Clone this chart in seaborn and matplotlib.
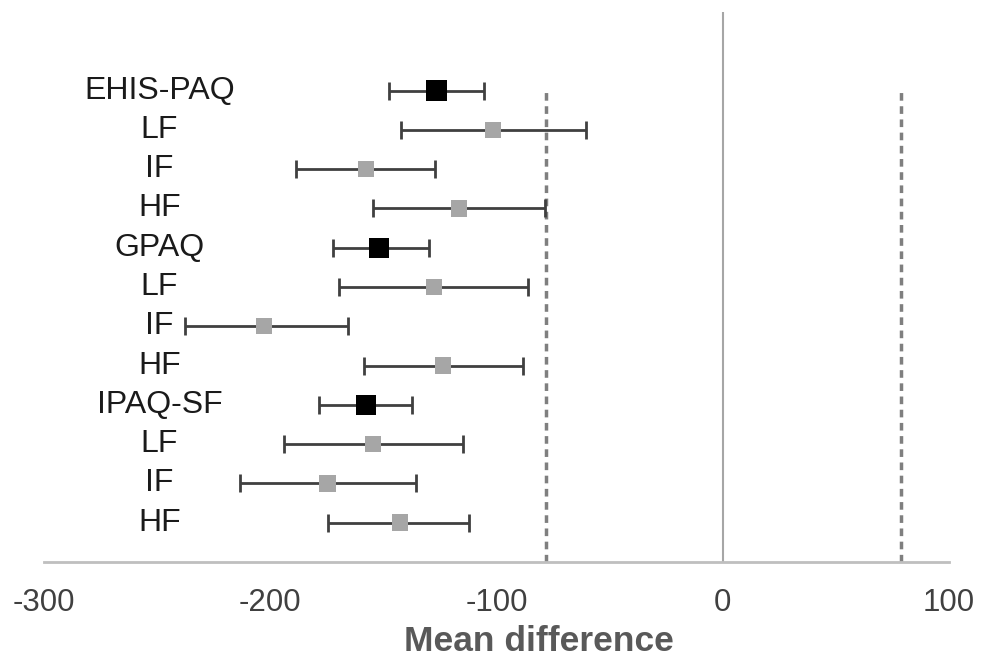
import seaborn as sns
import matplotlib.pyplot as plt
import pandas as pd

labels = ["EHIS-PAQ", "LF", "IF", "HF", "GPAQ", "LF", "IF", "HF",
          "IPAQ-SF", "LF", "IF", "HF"]
mean_diff = [-126.5, -101.6, -157.7, -116.6, -152.0, -127.6, -202.8, -123.6,
             -157.7, -154.6, -174.6, -142.6]
ci_low = [-147.5, -142.4, -188.8, -154.6, -172.4, -169.5, -237.5, -158.5,
          -178.6, -193.7, -213.5, -174.6]
ci_high = [-105.5, -60.5, -127.3, -78.5, -129.8, -86.0, -165.6, -88.4,
           -137.5, -114.7, -135.8, -112.0]
is_total = [True, False, False, False, True, False, False, False,
            True, False, False, False]
limits = [-78, 79]
xticks = [-300, -200, -100, 0, 100]

df = pd.DataFrame({"label": labels, "diff": mean_diff, "low": ci_low,
                   "high": ci_high, "total": is_total})
df["pos"] = len(df) - df.index

sns.set_style("white")
plt.rcParams["font.family"] = ["Liberation Sans", "DejaVu Sans"]

fig = plt.figure(figsize=(9.93, 6.59), dpi=100)
ax = fig.add_axes([0.0443, 0.1472, 0.9114, 0.8346])

# reference lines
ax.axvline(0, color="#a6a6a6", lw=1.5, zorder=1)
for lim in limits:
    ax.plot([lim, lim], [0, 12], color="#7f7f7f", lw=2.5,
            ls=(0, (2.2, 1.6)), zorder=1)

# confidence intervals
ax.errorbar(df["diff"], df["pos"],
            xerr=[df["diff"] - df["low"], df["high"] - df["diff"]],
            fmt="none", ecolor="#404040", elinewidth=2, capsize=6.5,
            capthick=2, zorder=2)

sub = df[~df["total"]]
tot = df[df["total"]]
sns.scatterplot(data=sub, x="diff", y="pos", marker="s", s=140,
                color="#a6a6a6", edgecolor="none", ax=ax, zorder=3)
sns.scatterplot(data=tot, x="diff", y="pos", marker="s", s=215,
                color="black", edgecolor="none", ax=ax, zorder=3)

for _, r in df.iterrows():
    ax.text(-249, r["pos"], r["label"], ha="center", va="center",
            fontsize=23, color="#1a1a1a")

ax.set_xlim(-300, 100)
ax.set_ylim(0, 14)
ax.set_xticks(xticks)
ax.set_xticklabels([str(t) for t in xticks], fontsize=22.5, color="#404040")
ax.tick_params(axis="x", length=0, pad=19)
ax.set_yticks([])
ax.set_ylabel("")
ax.set_xlabel("Mean difference", fontsize=25.5, fontweight="bold",
              color="#595959", labelpad=5)
ax.xaxis.label.set_x(0.547)

for side in ["top", "left", "right"]:
    ax.spines[side].set_visible(False)
ax.spines["bottom"].set_color("#bfbfbf")
ax.spines["bottom"].set_linewidth(2)

fig.savefig("out.png", dpi=100)
